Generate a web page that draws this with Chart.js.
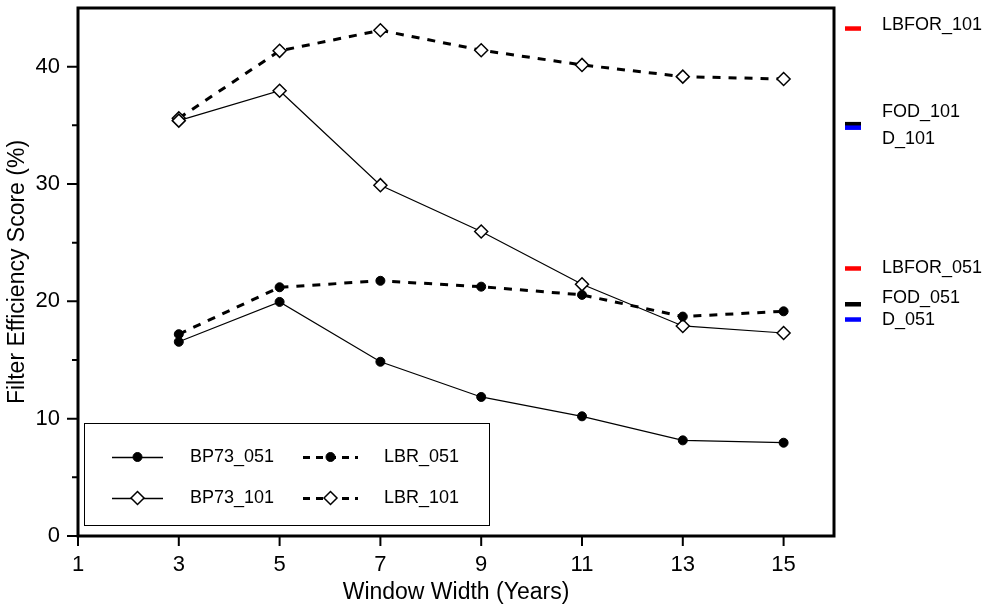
<!DOCTYPE html>
<html>
<head>
<meta charset="utf-8">
<script src="https://cdn.jsdelivr.net/npm/chart.js@4"></script>
<style>
  html, body { margin: 0; padding: 0; background: #fff; }
  #wrap { width: 987px; height: 606px; }
</style>
</head>
<body>
<div id="wrap"><canvas id="chart" width="987" height="606"></canvas></div>
<script>
// Data
const windowWidths = [3, 5, 7, 9, 11, 13, 15];
const bp73_051 = [16.55, 19.95, 14.85, 11.85, 10.2, 8.15, 7.95];
const lbr_051  = [17.2, 21.2, 21.75, 21.25, 20.55, 18.7, 19.15];
const bp73_101 = [35.4, 37.95, 29.9, 25.95, 21.45, 17.9, 17.3];
const lbr_101  = [35.6, 41.35, 43.1, 41.4, 40.15, 39.15, 38.95];

const xTicks = [1, 3, 5, 7, 9, 11, 13, 15];
const yTicks = [0, 10, 20, 30, 40];
const yMinorTicks = [5, 15, 25, 35];

// Reference levels marked beside the plot
const sideNames  = ['LBFOR_101', 'FOD_101', 'D_101', 'LBFOR_051', 'FOD_051', 'D_051'];
const sideValues = [43.25, 35.1, 34.8, 22.8, 19.75, 18.45];
const sideColors = ['#ff0000', '#000000', '#0000ff', '#ff0000', '#000000', '#0000ff'];
const sideLabelShift = [-4, -12, 11, 0, -6, 1];

const FONT = "'Liberation Sans', Arial, Helvetica, sans-serif";

const pts = vals => vals.map((v, i) => ({ x: windowWidths[i], y: v }));

const solidCircle = { borderColor: '#000', borderWidth: 1.2, borderDash: [], pointStyle: 'circle', pointRadius: 4.5, pointBackgroundColor: '#000', pointBorderColor: '#000', pointBorderWidth: 1 };
const dashCircle = { borderColor: '#000', borderWidth: 3, borderDash: [8, 8], pointStyle: 'circle', pointRadius: 4.5, pointBackgroundColor: '#000', pointBorderColor: '#000', pointBorderWidth: 1 };
const solidDiamond = { borderColor: '#000', borderWidth: 1.2, borderDash: [], pointStyle: 'rectRot', pointRadius: 6.5, pointBackgroundColor: '#fff', pointBorderColor: '#000', pointBorderWidth: 1.5 };
const dashDiamond = { borderColor: '#000', borderWidth: 3, borderDash: [8, 8], pointStyle: 'rectRot', pointRadius: 6.5, pointBackgroundColor: '#fff', pointBorderColor: '#000', pointBorderWidth: 1.5 };

// Frame, ticks, legend box and side markers
const decorations = {
  id: 'decorations',
  afterDraw(chart) {
    const { ctx, chartArea: a, scales: { x, y } } = chart;
    ctx.save();

    // frame
    ctx.strokeStyle = '#000';
    ctx.lineWidth = 3;
    ctx.setLineDash([]);
    ctx.strokeRect(a.left, a.top, a.right - a.left, a.bottom - a.top);

    // ticks
    ctx.lineWidth = 2;
    ctx.beginPath();
    xTicks.forEach(v => {
      const px = x.getPixelForValue(v);
      ctx.moveTo(px, a.bottom); ctx.lineTo(px, a.bottom + 10);
    });
    yTicks.forEach(v => {
      const py = y.getPixelForValue(v);
      ctx.moveTo(a.left, py); ctx.lineTo(a.left - 11, py);
    });
    yMinorTicks.forEach(v => {
      const py = y.getPixelForValue(v);
      ctx.moveTo(a.left, py); ctx.lineTo(a.left - 6, py);
    });
    ctx.stroke();

    // legend
    const box = { left: a.left + 6, top: 423, right: 489, bottom: 525 };
    ctx.fillStyle = '#fff';
    ctx.fillRect(box.left, box.top, box.right - box.left, box.bottom - box.top);
    ctx.lineWidth = 1;
    ctx.strokeStyle = '#000';
    ctx.strokeRect(box.left + 0.5, box.top + 0.5, box.right - box.left, box.bottom - box.top);

    const cols = [{ x1: 112, x2: 163, tx: 190 }, { x1: 303, x2: 358, tx: 384 }];
    const rows = [457, 498];
    ctx.font = '18px ' + FONT;
    ctx.textBaseline = 'middle';
    ctx.textAlign = 'left';
    chart.data.datasets.forEach((ds, i) => {
      const c = cols[i % 2], ry = rows[Math.floor(i / 2)];
      ctx.strokeStyle = '#000';
      ctx.lineWidth = ds.borderDash.length ? 3 : 1.5;
      ctx.setLineDash(ds.borderDash.length ? [7, 6] : []);
      ctx.beginPath();
      ctx.moveTo(c.x1, Math.round(ry) + 0.5); ctx.lineTo(c.x2, Math.round(ry) + 0.5);
      ctx.stroke();
      ctx.setLineDash([]);
      ctx.fillStyle = ds.pointBackgroundColor;
      ctx.strokeStyle = ds.pointBorderColor;
      ctx.lineWidth = ds.pointBorderWidth;
      Chart.helpers.drawPoint(ctx, { pointStyle: ds.pointStyle, radius: ds.pointRadius, rotation: 0, borderWidth: ds.pointBorderWidth }, (c.x1 + c.x2) / 2, ry);
      ctx.fillStyle = '#000';
      ctx.fillText(ds.label, c.tx, ry);
    });

    // side markers
    sideValues.forEach((v, i) => {
      const py = y.getPixelForValue(v);
      ctx.fillStyle = sideColors[i];
      ctx.fillRect(a.right + 11, py - 2.25, 16, 4.5);
      ctx.fillStyle = '#000';
      ctx.fillText(sideNames[i], a.right + 48, py + sideLabelShift[i]);
    });

    ctx.restore();
  }
};

new Chart(document.getElementById('chart'), {
  type: 'line',
  data: {
    datasets: [
      { label: 'BP73_051', data: pts(bp73_051), ...solidCircle },
      { label: 'LBR_051', data: pts(lbr_051), ...dashCircle },
      { label: 'BP73_101', data: pts(bp73_101), ...solidDiamond },
      { label: 'LBR_101', data: pts(lbr_101), ...dashDiamond }
    ]
  },
  options: {
    responsive: false,
    animation: false,
    devicePixelRatio: 1,
    layout: { padding: { left: 0, top: 7, right: 153, bottom: 0 } },
    elements: { line: { tension: 0 } },
    plugins: { legend: { display: false }, tooltip: { enabled: false } },
    scales: {
      x: {
        type: 'linear',
        min: 1,
        max: 16,
        grid: { display: false, drawTicks: false },
        border: { display: false },
        afterBuildTicks: s => { s.ticks = xTicks.map(v => ({ value: v })); },
        afterFit: s => { s.height = 70; s.paddingLeft = 0; s.paddingRight = 0; },
        ticks: { padding: 16, color: '#000', font: { family: FONT, size: 22 } },
        title: { display: true, text: 'Window Width (Years)', color: '#000', font: { family: FONT, size: 23 }, padding: { top: 0, bottom: 0 } }
      },
      y: {
        min: 0,
        max: 45,
        grid: { display: false, drawTicks: false },
        border: { display: false },
        afterBuildTicks: s => { s.ticks = yTicks.map(v => ({ value: v })); },
        afterFit: s => { s.width = 78; s.paddingTop = 0; s.paddingBottom = 0; },
        ticks: { padding: 18, color: '#000', font: { family: FONT, size: 22 } },
        title: { display: true, text: 'Filter Efficiency Score (%)', color: '#000', font: { family: FONT, size: 23 }, padding: { top: 4, bottom: 0 } }
      }
    }
  },
  plugins: [decorations]
});
</script>
</body>
</html>
